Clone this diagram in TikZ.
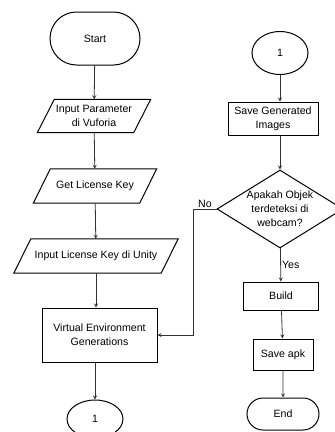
\documentclass[tikz,border=0pt]{standalone}
\usepackage{fontspec}
\setmainfont{Liberation Sans}
\usetikzlibrary{positioning,arrows,shapes.geometric,shapes.misc}

\begin{document}
\begin{tikzpicture}[x=1pt,y=-1pt,
	font=\fontsize{10.6}{14}\selectfont,
	term/.style={draw,line width=1pt,rounded rectangle,inner sep=0pt,align=center},
	io/.style={rectangle,inner sep=2pt,align=center},
	proc/.style={draw,line width=1pt,rectangle,inner sep=2pt,align=center},
	conn/.style={draw,line width=1pt,ellipse,inner sep=0pt},
	dec/.style={draw,line width=1pt,diamond,aspect=1.6,inner sep=0pt,align=center}]
	\useasboundingbox (0,0) rectangle (335,432);
	\node[term,minimum width=90pt,minimum height=53pt] (start) at (95,38.5) {Start};
	\node[io,minimum width=96pt,minimum height=33pt] (param) at (94,116) {Input Parameter\\di Vuforia};
	\node[io,minimum width=106pt,minimum height=34pt] (key) at (95,186) {Get License Key};
	\node[io,minimum width=147pt,minimum height=34pt] (unity) at (96,256) {Input License Key di Unity};
	\node[proc,minimum width=115pt,minimum height=54pt] (venv) at (99.5,335) {Virtual Environment\\Generations};
	\node[conn,minimum width=56pt,minimum height=38pt] (c1) at (95,419) {1};
	\node[conn,minimum width=56pt,minimum height=43pt] (c2) at (280,53) {1};
	\node[proc,minimum width=90pt,minimum height=33pt] (save) at (273,118.5) {Save Generated\\Images};
	\node[dec,minimum width=126pt,minimum height=78pt] (obj) at (280,209) {Apakah Objek\\terdeteksi di\\webcam?};
	\node[proc,minimum width=75pt,minimum height=28pt] (build) at (281,296) {Build};
	\node[proc,minimum width=60pt,minimum height=31pt] (apk) at (283,354.5) {Save apk};
	\node[term,minimum width=72pt,minimum height=32pt] (end) at (283,414) {End};
	\foreach \n in {param,key,unity}
		\draw[line width=1pt] ([xshift=-8.5pt]\n.south west) -- ([xshift=-8.5pt]\n.south east)
		-- ([xshift=8.5pt]\n.north east) -- ([xshift=8.5pt]\n.north west) -- cycle;
	\path[-stealth,line width=0.8pt,black!80]
	(start) edge (param)
	(param) edge (key)
	(key) edge (unity)
	(unity) edge (unity |- venv.north)
	(venv.south -| c1) edge (c1)
	(c2) edge (c2 |- save.north)
	(save.south -| obj) edge (obj)
	(obj) edge node[right,inner sep=1pt,black] {Yes} (build)
	(build) edge (apk)
	(apk) edge (end);
	\draw[-stealth,line width=0.8pt,black!80] (obj.west) -- node[above,inner sep=1.5pt,black] {No} ++(-23,0) |- (venv.east);
\end{tikzpicture}
\end{document}
